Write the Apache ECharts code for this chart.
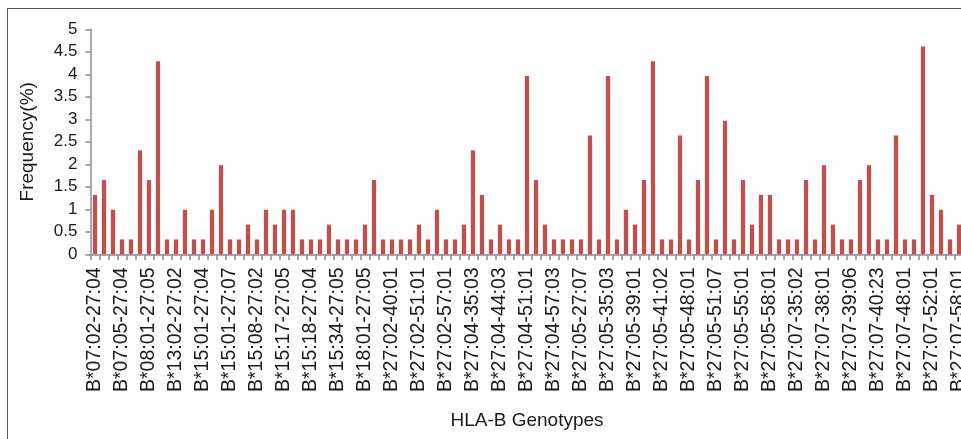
<!DOCTYPE html>
<html>
<head>
<meta charset="utf-8">
<script src="https://cdn.jsdelivr.net/npm/echarts@6/dist/echarts.min.js"></script>
<style>
  html, body { margin: 0; padding: 0; background: #fff; overflow: hidden; }
  #chart { position: absolute; left: 0; top: 0; width: 990px; height: 439px; }
  #frame { position: absolute; left: 7px; top: 8px; width: 980px; height: 450px;
           border-top: 1px solid #555; border-left: 1px solid #555; pointer-events: none; }
</style>
</head>
<body>
<div id="chart"></div>
<div id="frame"></div>
<script>
// Tick labels shown on the x axis (every third genotype)
const labeledGenotypes = [
  'B*07:02-27:04','B*07:05-27:04','B*08:01-27:05','B*13:02-27:02','B*15:01-27:04',
  'B*15:01-27:07','B*15:08-27:02','B*15:17-27:05','B*15:18-27:04','B*15:34-27:05',
  'B*18:01-27:05','B*27:02-40:01','B*27:02-51:01','B*27:02-57:01','B*27:04-35:03',
  'B*27:04-44:03','B*27:04-51:01','B*27:04-57:03','B*27:05-27:07','B*27:05-35:03',
  'B*27:05-39:01','B*27:05-41:02','B*27:05-48:01','B*27:05-51:07','B*27:05-55:01',
  'B*27:05-58:01','B*27:07-35:02','B*27:07-38:01','B*27:07-39:06','B*27:07-40:23',
  'B*27:07-48:01','B*27:07-52:01','B*27:07-58:01'
];

// Frequency (%) of each genotype, left to right
const frequencies = [
  1.32, 1.65, 0.99, 0.33, 0.33, 2.31, 1.65, 4.29, 0.33, 0.33,
  0.99, 0.33, 0.33, 0.99, 1.98, 0.33, 0.33, 0.66, 0.33, 0.99,
  0.66, 0.99, 0.99, 0.33, 0.33, 0.33, 0.66, 0.33, 0.33, 0.33,
  0.66, 1.65, 0.33, 0.33, 0.33, 0.33, 0.66, 0.33, 0.99, 0.33,
  0.33, 0.66, 2.31, 1.32, 0.33, 0.66, 0.33, 0.33, 3.96, 1.65,
  0.66, 0.33, 0.33, 0.33, 0.33, 2.64, 0.33, 3.96, 0.33, 0.99,
  0.66, 1.65, 4.29, 0.33, 0.33, 2.64, 0.33, 1.65, 3.96, 0.33,
  2.97, 0.33, 1.65, 0.66, 1.32, 1.32, 0.33, 0.33, 0.33, 1.65,
  0.33, 1.98, 0.66, 0.33, 0.33, 1.65, 1.98, 0.33, 0.33, 2.64,
  0.33, 0.33, 4.62, 1.32, 0.99, 0.33, 0.66
];

const yTicks = { min: 0, max: 5, interval: 0.5 };
const xAxisTitle = 'HLA-B Genotypes';
const yAxisTitle = 'Frequency(%)';

// categories: labeled genotype at every third position, unlabeled (unreadable) names in between
const categories = frequencies.map((v, i) => (i % 3 === 0 ? labeledGenotypes[i / 3] : ''));

const FONT = '"Liberation Sans", Arial, sans-serif';
const chart = echarts.init(document.getElementById('chart'), null, { renderer: 'canvas' });
chart.setOption({
  animation: false,
  grid: { left: 90.5, top: 29.3, width: 9 * frequencies.length, height: 225 },
  xAxis: {
    type: 'category',
    data: categories,
    name: xAxisTitle,
    nameLocation: 'middle',
    nameGap: 157,
    nameTextStyle: { fontFamily: FONT, fontSize: 19, color: '#1a1a1a' },
    axisLine: { lineStyle: { color: '#8c8c8c', width: 1.5 } },
    axisTick: { show: true, interval: 0, length: 6, lineStyle: { color: '#8c8c8c', width: 1.5 } },
    axisLabel: { interval: 2, rotate: 90, margin: 13, fontFamily: FONT, fontSize: 19.5, color: '#1a1a1a' },
    splitLine: { show: false }
  },
  yAxis: {
    type: 'value',
    min: yTicks.min, max: yTicks.max, interval: yTicks.interval,
    name: yAxisTitle,
    nameLocation: 'middle',
    nameGap: 53,
    nameRotate: 90,
    nameTextStyle: { fontFamily: FONT, fontSize: 19, color: '#1a1a1a' },
    axisLine: { show: true, lineStyle: { color: '#8c8c8c', width: 1.5 } },
    axisTick: { show: true, length: 5, lineStyle: { color: '#8c8c8c', width: 1.5 } },
    axisLabel: { margin: 13, fontFamily: FONT, fontSize: 17, color: '#1a1a1a' },
    splitLine: { show: false }
  },
  series: [{
    type: 'bar',
    data: frequencies,
    barWidth: 4.3,
    itemStyle: { color: '#C0504D' }
  }]
});
</script>
</body>
</html>
